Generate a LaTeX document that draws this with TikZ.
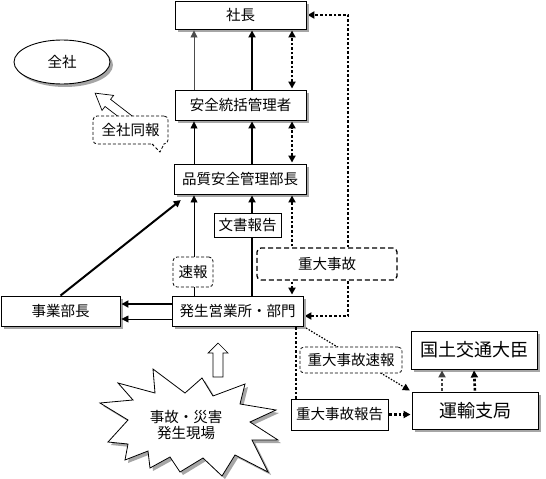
\documentclass[tikz,border=0pt]{standalone}
\usepackage{fontspec}
\setmainfont{Noto Sans CJK JP}
\usetikzlibrary{arrows.meta,shapes.geometric,shadows,backgrounds}

\tikzset{
  hd/.tip={Triangle[length=7pt,width=7pt]},
  box/.style={draw, fill=white, line width=0.9pt, inner sep=0pt, minimum height=30pt,
    drop shadow={shadow xshift=3pt, shadow yshift=-3pt, fill=gray!70, opacity=1}},
  memo/.style={draw, fill=white, line width=0.8pt, dash pattern=on 3pt off 2pt, rounded corners=4pt, inner sep=0pt},
  thinarr/.style={-hd, line width=0.8pt, shorten >=1pt},
  thickarr/.style={-hd, line width=2pt, shorten >=1pt},
  dotline/.style={line width=2.6pt, dash pattern=on 2.6pt off 2pt, shorten >=1pt, shorten <=1pt},
}

\begin{document}
\begin{tikzpicture}[x=1pt,y=-1pt,font=\fontsize{14.5}{16}\selectfont]
\useasboundingbox (0,0) rectangle (546,479);

% columns for the vertical connectors
\coordinate (c1) at (194,0);
\coordinate (c2) at (252,0);
\coordinate (c3) at (292,0);
\coordinate (c4) at (348,0);
\coordinate (c5) at (296,0);
\coordinate (c6) at (442,0);

% boxes
\node[box, minimum width=131pt, minimum height=28pt] (shacho) at (240.5,15) {社長};
\node[box, ellipse, minimum width=96pt, minimum height=44pt] (zensha) at (62,62) {全社};
\node[box, minimum width=131pt] (anzen) at (240.5,105) {安全統括管理者};
\node[box, minimum width=132pt] (hinshitsu) at (240,179) {品質安全管理部長};
\node[box, minimum width=131pt] (hassei) at (237.5,311) {発生営業所・部門};
\node[box, minimum width=119pt] (jigyo) at (60.5,311) {事業部長};
\node[box, minimum width=126pt, minimum height=38pt, font=\fontsize{18}{20}\selectfont] (kokudo) at (474,350) {国土交通大臣};
\node[box, minimum width=126pt, minimum height=37pt, font=\fontsize{18}{20}\selectfont] (unyu) at (475,410.5) {運輸支局};

% labels on the connectors
\node[draw, fill=white, line width=0.9pt, inner sep=0pt, minimum width=67pt, minimum height=24pt] (bunsho) at (247.5,225) {文書報告};
\node[draw, fill=white, line width=0.9pt, inner sep=0pt, minimum width=97pt, minimum height=31pt] (judaiho) at (339.5,414.5) {重大事故報告};
\node[memo, minimum width=40pt, minimum height=30pt] (sokuho) at (193,272) {速報};
\node[memo, line width=1.3pt, dash pattern=on 5pt off 3pt, minimum width=140pt, minimum height=32pt] (judai) at (327,264) {重大事故};
\node[memo, minimum width=102pt, minimum height=26pt] (judaisoku) at (351,360) {重大事故速報};

% hollow arrow to 全社 and callout
\begin{scope}[shift={(130,120)}, rotate=142.4]
  \draw[fill=white, line width=0.7pt] (0,-4.5) -- (28,-4.5) -- (28,-9.5) -- (44,0) -- (28,9.5) -- (28,4.5) -- (0,4.5) -- cycle;
\end{scope}
\node[memo, minimum width=75pt, minimum height=28pt] (doho) at (130.5,130) {全社同報};
\fill[white] (152,142) -- (160,152) -- (164,142) -- cycle;
\draw[dash pattern=on 3pt off 2pt, line width=0.8pt] (152,144) -- (160,152) -- (164,144);

% 社長 - 安全統括管理者 - 品質安全管理部長
\draw[thinarr, gray!60!black] (anzen.north -| c1) -- (shacho.south -| c1);
\draw[thickarr] (anzen.north -| c2) -- (shacho.south -| c2);
\draw[dotline, hd-hd] (anzen.north -| c3) -- (shacho.south -| c3);
\draw[thinarr] (hinshitsu.north -| c1) -- (anzen.south -| c1);
\draw[thickarr] (hinshitsu.north -| c2) -- (anzen.south -| c2);
\draw[dotline, hd-hd] (hinshitsu.north -| c3) -- (anzen.south -| c3);

% 発生営業所・部門 - 品質安全管理部長
\draw[line width=0.8pt] (hassei.north -| c1) -- (sokuho.south -| c1);
\draw[thinarr] (sokuho.north -| c1) -- (hinshitsu.south -| c1);
\draw[line width=2pt] (hassei.north -| c2) -- (bunsho.south -| c2);
\draw[thickarr] (bunsho.north -| c2) -- (hinshitsu.south -| c2);
\draw[dotline, -hd] (judai.north -| c3) -- (hinshitsu.south -| c3);
\draw[dotline, -hd] (judai.south -| c3) -- (hassei.north -| c3);
\begin{scope}[on background layer]
  \draw[dotline, hd-hd] ([yshift=-5pt]hassei.east) -| (c4 |- shacho.east) -- (shacho.east);
  \draw[line width=1.2pt, dash pattern=on 1.5pt off 1.5pt, -hd, shorten >=2pt] (hassei.south east) -- (unyu.north west);
\end{scope}

% 事業部長
\draw[thickarr] ([yshift=7pt]hassei.west) -- ([yshift=7pt]hassei.west -| jigyo.east);
\draw[thinarr] ([yshift=-8pt]hassei.west) -- ([yshift=-8pt]hassei.west -| jigyo.east);
\draw[thickarr] (jigyo.north) -- ([xshift=8pt,yshift=-5pt]hinshitsu.south west);

% 運輸支局 - 国土交通大臣
\draw[dotline, shorten >=0pt] (hassei.south -| c5) -- (judaiho.north -| c5);
\draw[dotline, -hd] (judaiho.east) -- (judaiho.east -| unyu.west);
\draw[dotline, -hd, line width=2pt, black!75] (unyu.north -| c6) -- (kokudo.south -| c6);
\draw[dotline, -hd] (unyu.north) -- (kokudo.south);

% accident site
\draw[fill=white, line width=0.8pt, drop shadow={shadow xshift=3pt, shadow yshift=-3pt, fill=gray!70, opacity=1}]
  (153,369) -- (185,393) -- (202,378) -- (213,396) -- (245,384) -- (240,404) -- (276,410) -- (250,422)
  -- (278,440) -- (252,440) -- (268,472) -- (235,455) -- (222,476) -- (203,458) -- (180,472) -- (170,457)
  -- (150,468) -- (148,451) -- (125,460) -- (128,444) -- (108,442) -- (128,420) -- (100,403) -- (133,400)
  -- (118,383) -- (155,393) -- cycle;
\node[align=center] (genba) at (186,425) {事故・災害\\発生現場};
\draw[fill=white, line width=0.7pt] (213,377) -- (213,353) -- (208,353) -- (218,343) -- (228,353) -- (223,353) -- (223,377) -- cycle;
\end{tikzpicture}
\end{document}
